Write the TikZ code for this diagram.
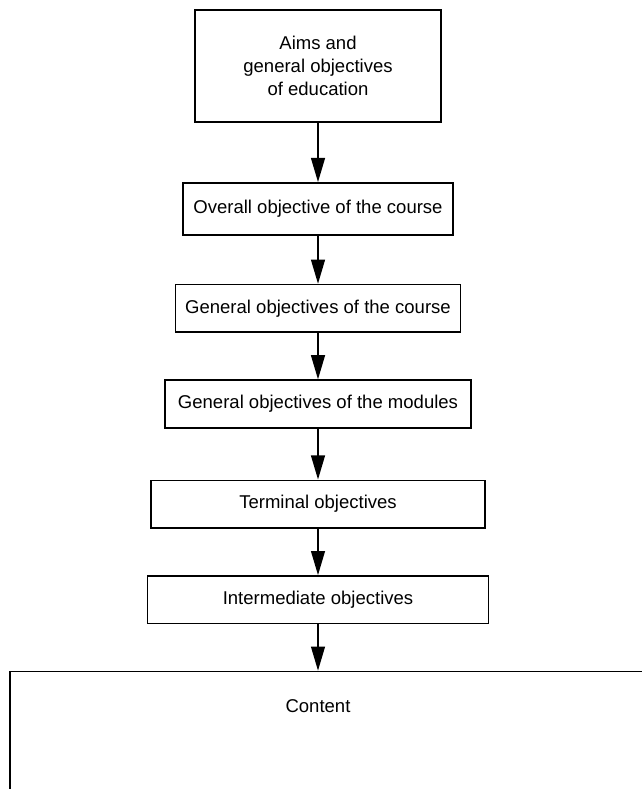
\documentclass[tikz,border=0pt]{standalone}
\usepackage{fontspec}
\setmainfont{Liberation Sans}
\usetikzlibrary{positioning,arrows.meta}

\tikzstyle{rblock} = [rectangle, draw, line width=0.9pt, text centered, inner sep=0pt, minimum height=25.7pt]
\tikzstyle{arrow} = [line width=0.8pt,-{Triangle[length=13pt,width=7.5pt]}]

\begin{document}
\begin{tikzpicture}[node distance = 25pt, auto]
    \useasboundingbox (-171.7pt,35.6pt) rectangle (174.4pt,-390.4pt);
    \node (node1) [rblock, minimum width=133pt, minimum height=60.5pt, align=center, font={\fontsize{10}{12.6}\selectfont}] {Aims and\\general objectives\\of education};
    \node (node2) [rblock, below = 32pt of node1, minimum width=146pt, minimum height=28pt] {Overall objective of the course};
    \node (node3) [rblock, below = 26pt of node2, minimum width=154pt] {General objectives of the course};
    \node (node4) [rblock, below = of node3, minimum width=165pt] {General objectives of the modules};
    \node (node5) [rblock, below = 27.5pt of node4, minimum width=180pt] {Terminal objectives};
    \node (node6) [rblock, below = of node5, minimum width=184pt] {Intermediate objectives};
    % wide last box, runs off the page on the right and bottom
    \node (node7) [rblock, below = of node6, xshift=22.7pt, minimum width=378pt, minimum height=108pt] {};
    \coordinate (top7) at (node7.north -| node1);
    \node (content) [below = 15.5pt of top7, inner sep=0pt] {Content};
    \draw [arrow] (node1) -- (node2);
    \draw [arrow] (node2) -- (node3);
    \draw [arrow] (node3) -- (node4);
    \draw [arrow] (node4) -- (node5);
    \draw [arrow] (node5) -- (node6);
    \draw [arrow] (node6) -- (top7);
\end{tikzpicture}
\end{document}
